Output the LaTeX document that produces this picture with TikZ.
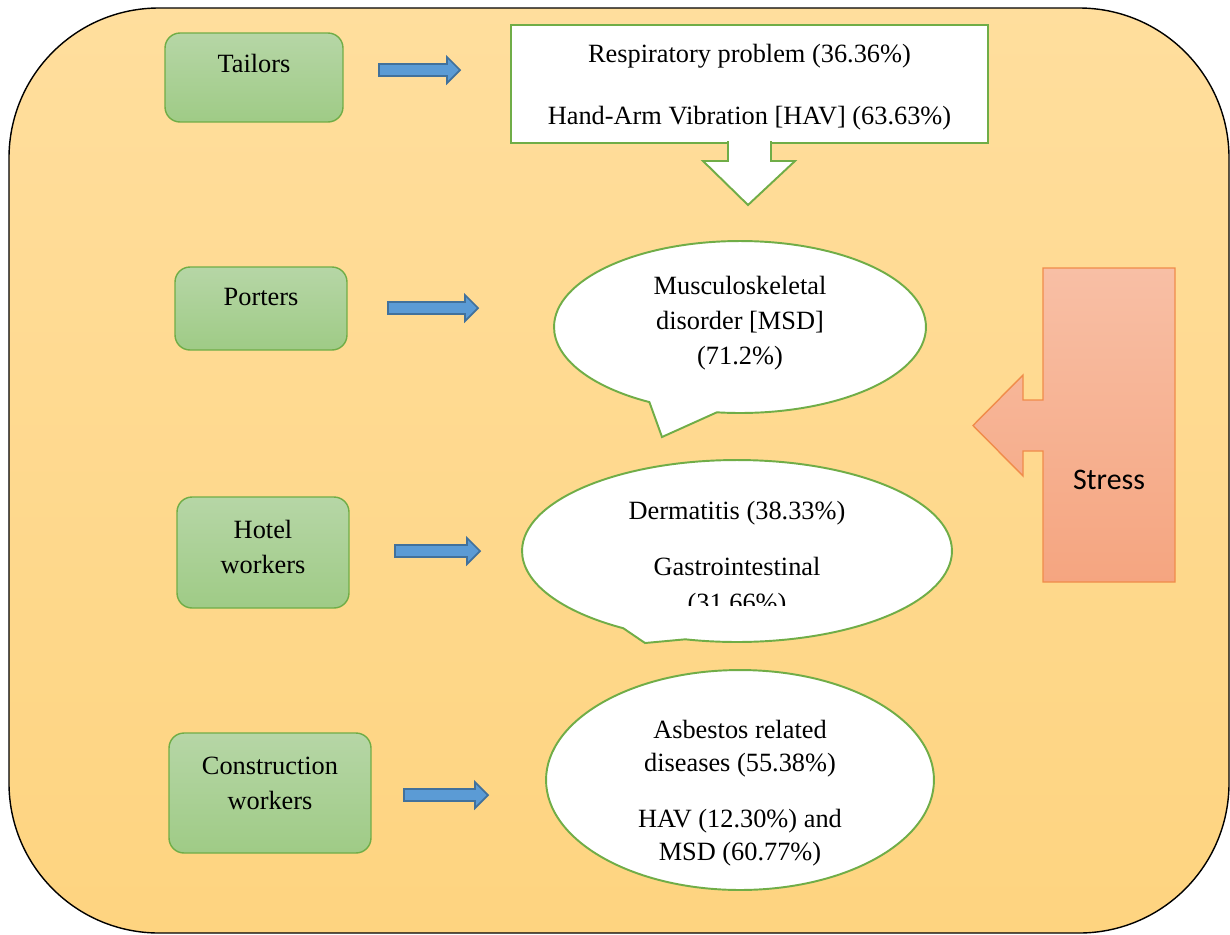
\documentclass[tikz,border=0pt]{standalone}
\usepackage{fontspec}
\setmainfont{Liberation Serif}
\newfontfamily\stressfont{Carlito}
\usetikzlibrary{shapes.geometric,shapes.callouts}

\definecolor{bgtop}{RGB}{255,222,157}
\definecolor{bgbot}{RGB}{254,212,128}
\definecolor{boxgreen}{RGB}{112,173,71}
\definecolor{greentop}{RGB}{182,214,166}
\definecolor{greenbot}{RGB}{159,203,134}
\definecolor{arrowfill}{RGB}{91,155,213}
\definecolor{arrowblue}{RGB}{65,113,156}
\definecolor{stresstop}{RGB}{248,191,165}
\definecolor{stressbot}{RGB}{245,165,128}
\definecolor{stressline}{RGB}{240,140,74}

\begin{document}
\begin{tikzpicture}[x=0.02cm, y=-0.02cm, font=\fontsize{15}{20}\selectfont,
  workerbox/.style={rectangle, rounded corners=0.3cm, draw=boxgreen, line width=0.8pt, top color=greentop, bottom color=greenbot},
  greenline/.style={draw=boxgreen, line width=1.1pt, fill=white},
  bluearrow/.style={draw=arrowblue, fill=arrowfill, line width=1pt},
  pics/barrow/.style={code={\draw[bluearrow] (0,-6) -- ({#1-13},-6) -- ({#1-13},-13) -- (#1,0) -- ({#1-13},13) -- ({#1-13},6) -- (0,6) -- cycle;}}]

% Fondo
\useasboundingbox (0,0) rectangle (1230,934);
\draw[black, line width=0.8pt, rounded corners=3cm, top color=bgtop, bottom color=bgbot] (9,8) rectangle (1229,933);

% Trabajadores
\node[workerbox, minimum width=3.56cm, minimum height=1.78cm] at (254,77.5) (tailors) {};
\node at (254,63) (tailorsT) {Tailors};

\node[workerbox, minimum width=3.44cm, minimum height=1.66cm] at (261,308.5) (porters) {};
\node at (261,297) (portersT) {Porters};

\node[workerbox, minimum width=3.44cm, minimum height=2.22cm] at (263,552.5) (hotel) {};
\node[align=center] at (263,547) (hotelT) {Hotel\\workers};

\node[workerbox, minimum width=4.04cm, minimum height=2.4cm] at (270,793) (constr) {};
\node[align=center] at (270,783) (constrT) {Construction\\workers};

% Flechas
\pic (arrTailors) at (379,70) {barrow=81};
\pic (arrPorters) at (388,308) {barrow=90};
\pic (arrHotel) at (395,551) {barrow=85};
\pic (arrConstr) at (404,795) {barrow=84};

% Enfermedades
\node[greenline, rectangle, minimum width=9.54cm, minimum height=2.36cm] at (749.5,84) (resp) {};
\node[align=center] at (749.5,87) (respT) {Respiratory problem (36.36\%)\\[15pt]Hand-Arm Vibration [HAV] (63.63\%)};
\draw[greenline] (728,141) -- (728,161) -- (703,161) -- (748,205) -- (795,161) -- (771,161) -- (771,141);

\node[greenline, ellipse callout, minimum width=7.44cm, minimum height=3.44cm, callout absolute pointer={(662,437)}, callout pointer arc=22] at (740,327) (msd) {};
\node[align=center] at (740,323) (msdT) {Musculoskeletal\\disorder [MSD]\\(71.2\%)};

\node[greenline, ellipse callout, minimum width=8.6cm, minimum height=3.64cm, callout absolute pointer={(645,643)}, callout pointer arc=18] at (737,551) (derm) {};
\begin{scope}
\clip (520,470) rectangle (960,605);
\node[align=center] at (737,559) (dermT) {Dermatitis (38.33\%)\\[12pt]Gastrointestinal\\(31.66\%)};
\end{scope}

\node[greenline, ellipse, minimum width=7.76cm, minimum height=4.4cm] at (740,780) (asb) {};
\node[align=center, font=\fontsize{15}{19}\selectfont] at (740,793) (asbT) {Asbestos related\\diseases (55.38\%)\\[12.7pt]HAV (12.30\%) and\\MSD (60.77\%)};

% Estres
\draw[draw=stressline, line width=0.8pt, top color=stresstop, bottom color=stressbot] (1043,268) -- (1175,268) -- (1175,582) -- (1043,582) -- (1043,451) -- (1023,451) -- (1023,476) -- (973,425.5) -- (1023,375) -- (1023,400) -- (1043,400) -- cycle;
\node[font=\stressfont\fontsize{17}{20}\selectfont] at (1109,480) (stress) {Stress};

\end{tikzpicture}
\end{document}
